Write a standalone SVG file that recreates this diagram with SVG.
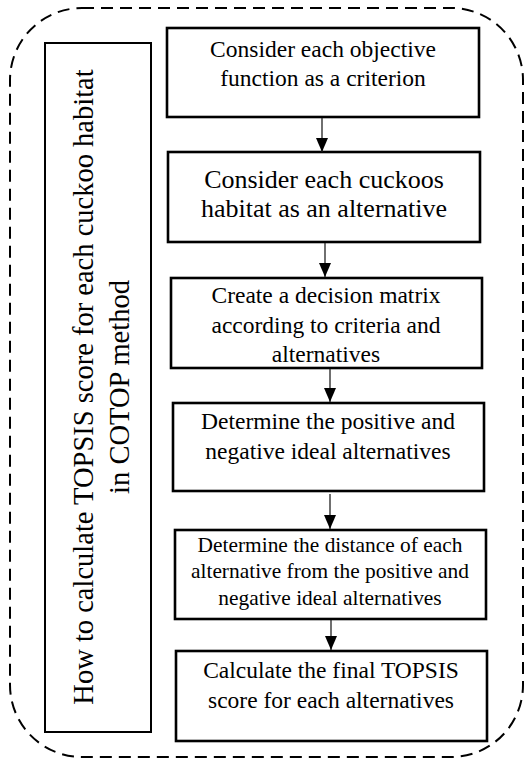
<svg xmlns="http://www.w3.org/2000/svg" width="530" height="759" viewBox="0 0 530 759">
<defs>
<style>
.box{fill:#fff;stroke:#000;stroke-width:2.6}
.side{fill:#fff;stroke:#000;stroke-width:2}
.t{fill:#000;text-anchor:middle}
.conn line{stroke:#222;stroke-width:1.3}
</style>
<marker id="ah" viewBox="0 0 14 12" refX="14" refY="6" markerWidth="14" markerHeight="12" markerUnits="userSpaceOnUse" orient="auto">
<path d="M0,0 L14,6 L0,12 Z" fill="#000"/>
</marker>
</defs>
<rect width="530" height="759" fill="#fff"/>
<g id="frame">
<rect x="10" y="8" width="513" height="749" rx="72" ry="72" fill="none" stroke="#000" stroke-width="2" stroke-dasharray="12 7"/>
</g>
<g font-family="'Liberation Serif', 'Times New Roman', serif">
<g id="side">
<rect class="side" x="45" y="43" width="106" height="689"/>
<text class="t" font-family="'Liberation Serif', serif" font-size="28.5" transform="translate(98,387) rotate(-90)"><tspan x="0" y="-5">How to calculate TOPSIS score for each cuckoo habitat</tspan><tspan x="0" y="31">in COTOP method</tspan></text>
</g>
<g id="n1">
<rect class="box" x="167" y="28" width="312" height="89"/>
<text class="t" font-family="'Liberation Serif', serif" font-size="23.5"><tspan x="323" y="57">Consider each objective</tspan><tspan x="323" y="86">function as a criterion</tspan></text>
</g>
<g id="n2">
<rect class="box" x="168" y="152" width="312" height="90"/>
<text class="t" font-family="'Liberation Serif', serif" font-size="26"><tspan x="324" y="188">Consider each cuckoos</tspan><tspan x="324" y="217">habitat as an alternative</tspan></text>
</g>
<g id="n3">
<rect class="box" x="171" y="278" width="311" height="90"/>
<text class="t" font-family="'Liberation Serif', serif" font-size="23.5"><tspan x="326" y="303">Create a decision matrix</tspan><tspan x="326" y="333">according to criteria and</tspan><tspan x="326" y="362">alternatives</tspan></text>
</g>
<g id="n4">
<rect class="box" x="173" y="403" width="311" height="88"/>
<text class="t" font-family="'Liberation Serif', serif" font-size="23.5"><tspan x="328" y="429">Determine the positive and</tspan><tspan x="328" y="459">negative ideal alternatives</tspan></text>
</g>
<g id="n5">
<rect class="box" x="175" y="530" width="311" height="89"/>
<text class="t" font-family="'Liberation Serif', serif" font-size="21.4"><tspan x="330" y="552">Determine the distance of each</tspan><tspan x="330" y="578">alternative from the positive and</tspan><tspan x="330" y="605">negative ideal alternatives</tspan></text>
</g>
<g id="n6">
<rect class="box" x="176" y="651" width="311" height="90"/>
<text class="t" font-family="'Liberation Serif', serif" font-size="23.5"><tspan x="331" y="678">Calculate the final TOPSIS</tspan><tspan x="331" y="708">score for each alternatives</tspan></text>
</g>
</g>
<g class="conn" id="connectors">
<line x1="322" y1="118" x2="322" y2="152" marker-end="url(#ah)"/>
<line x1="325" y1="243" x2="325" y2="277" marker-end="url(#ah)"/>
<line x1="330" y1="369" x2="330" y2="402" marker-end="url(#ah)"/>
<line x1="330" y1="494" x2="330" y2="529" marker-end="url(#ah)"/>
<line x1="331" y1="620" x2="331" y2="650" marker-end="url(#ah)"/>
</g>
</svg>
